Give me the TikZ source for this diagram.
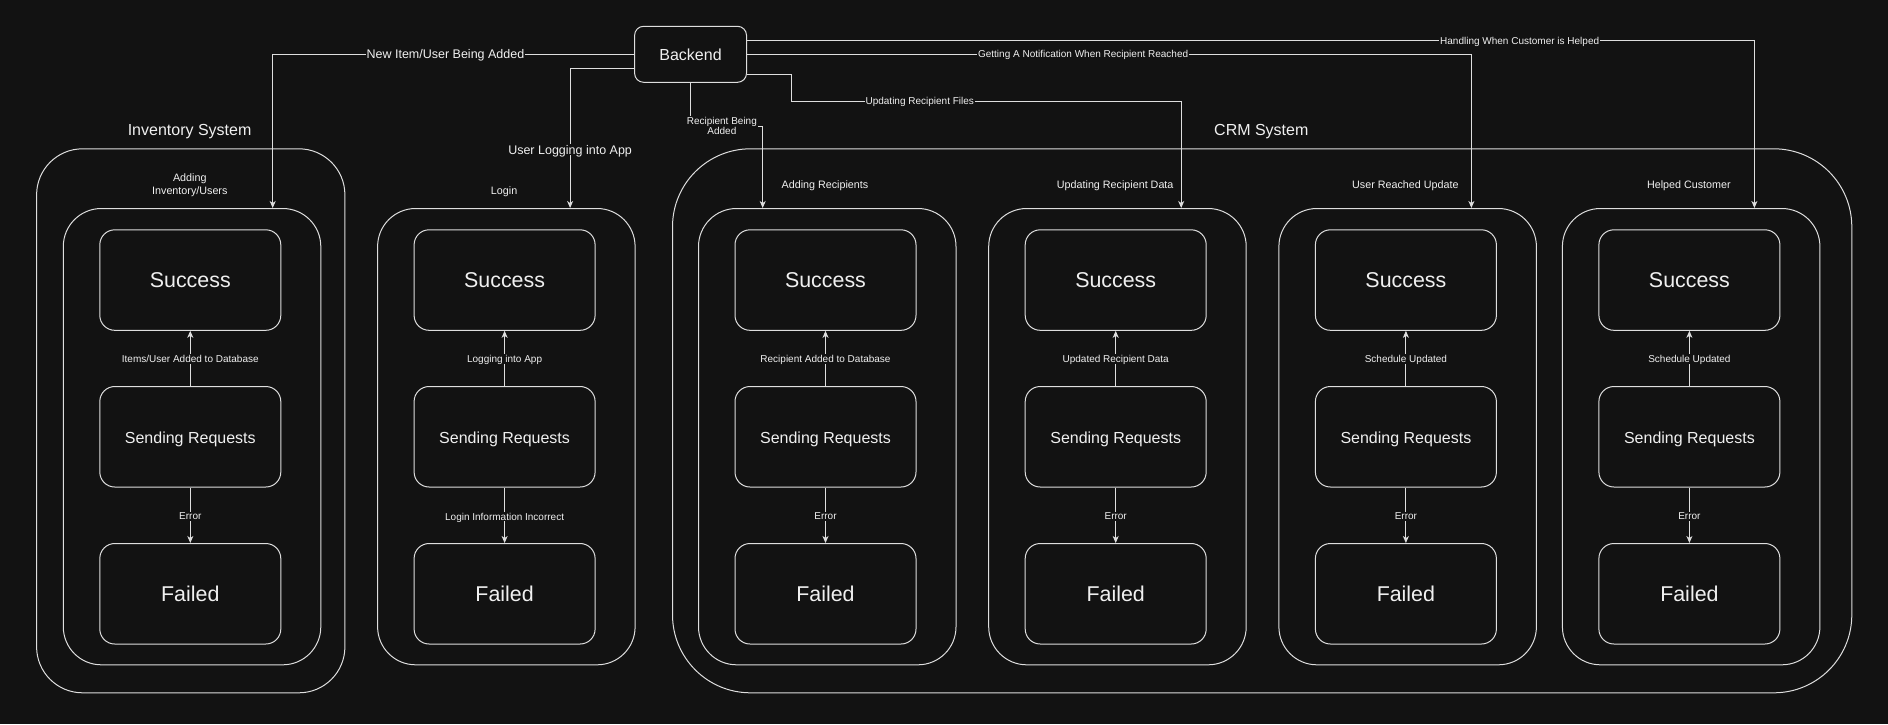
\documentclass[tikz,border=0pt]{standalone}
\usepackage{fontspec}
\setmainfont{Liberation Sans}
\usetikzlibrary{arrows.meta}
\definecolor{bg}{RGB}{18,18,18}
\definecolor{ln}{RGB}{222,222,222}
\definecolor{tx}{RGB}{240,240,240}
\tikzset{
  outerbox/.style={draw=ln, line width=1pt, rounded corners=#1, anchor=north west, inner sep=0pt},
  inbox/.style={draw=ln, line width=1pt, rounded corners=38pt, anchor=north west, inner sep=0pt,
    minimum width=257.5pt, minimum height=456.3pt},
  statebox/.style={draw=ln, line width=1pt, rounded corners=15pt, anchor=north west, inner sep=0pt,
    minimum width=181pt, minimum height=100.5pt, text=tx},
  bigtxt/.style={font=\fontsize{21.4}{25}\selectfont},
  midtxt/.style={font=\fontsize{16}{19}\selectfont},
  sendtxt/.style={font=\fontsize{16}{19}\selectfont, text depth=0pt, text height=14pt},
  title/.style={text=tx, font=\fontsize{16}{19}\selectfont, inner sep=1pt, text depth=0pt, yshift=-1pt},
  glab/.style={text=tx, font=\fontsize{10.75}{13}\selectfont, align=center, inner sep=1pt, text depth=0pt},
  elab/.style={text=tx, fill=bg, font=\fontsize{10}{10.5}\selectfont, align=center, inner sep=1pt, text depth=0pt},
  elabbig/.style={text=tx, fill=bg, font=\fontsize{12.5}{15}\selectfont, inner sep=1pt, text depth=0pt},
  arr/.style={draw=ln, line width=1pt, -{Stealth[length=7pt,width=6pt,inset=2pt]}},
}
\newcommand\mycol[6]{%
  \node[inbox] (i#1) at (#2-36.5,208) {};
  \node[statebox, bigtxt] (s#1) at (#2,229.3) {Success};
  \node[statebox, sendtxt] (r#1) at (#2,386) {Sending Requests};
  \node[statebox, bigtxt] (f#1) at (#2,543) {Failed};
  \node[glab] (g#1) at (#2+90.5,#6) {#5};
  \draw[arr] (r#1) -- node[elab, yshift=-0.6pt] {#3} (s#1);
  \draw[arr] (r#1) -- node[elab, yshift=-1.2pt] {#4} (f#1);
}
\begin{document}
\begin{tikzpicture}[x=1pt,y=-1pt]
  \fill[bg] (0,0) rectangle (1888,724);
  \useasboundingbox (0,0) rectangle (1888,724);

  % containers
  \node[outerbox=46pt, minimum width=308.3pt, minimum height=544pt] (inv) at (36.1,148.3) {};
  \node[outerbox=78pt, minimum width=1179.3pt, minimum height=544pt] (crm) at (672,148.3) {};
  \node[title] (invt) at (189.6,129) {Inventory System};
  \node[title] (crmt) at (1261.3,129) {CRM System};

  % columns
  \mycol{1}{99.3}{Items/User Added to Database}{Error}{Adding\\Inventory/Users}{184.3}
  \mycol{2}{413.6}{Logging into App}{Login Information Incorrect}{Login}{190.8}
  \mycol{3}{734.5}{Recipient Added to Database}{Error}{Adding Recipients}{184.8}
  \mycol{4}{1024.7}{Updated Recipient Data}{Error}{Updating Recipient Data}{184.8}
  \mycol{5}{1314.9}{Schedule Updated}{Error}{User Reached Update}{184.8}
  \mycol{6}{1598.4}{Schedule Updated}{Error}{Helped Customer}{184.8}

  % backend
  \node[draw=ln, line width=1pt, rounded corners=9pt, minimum width=111.9pt, minimum height=56pt,
        inner sep=0pt, text=tx, midtxt] (be) at (690.55,54.3) {Backend};

  % connectors from backend
  \draw[arr] (be.west) -- node[elabbig, pos=0.522] {New Item/User Being Added} (272.7,54.3)
        -- (272.7,0 |- i1.north);
  \draw[arr] ([yshift=-14.4pt]be.west) -| node[elabbig, pos=0.79] {User Logging into App}
        (570.1,0 |- i2.north);
  \draw[arr] (be.south) |- node[elab, pos=0.717] {Recipient Being\\Added} (762.7,126)
        -- (762.7,0 |- i3.north);
  \draw[arr] ([yshift=-20pt]be.east) -| (791,101)
        -- node[elab, pos=0.33] {Updating Recipient Files} (1181.2,101)
        -- (1181.2,0 |- i4.north);
  \draw[arr] (be.east) -- node[elab, pos=0.464] {Getting A Notification When Recipient Reached}
        (1471.4,54.3) -- (1471.4,0 |- i5.north);
  \draw[arr] ([yshift=13.6pt]be.east) -- node[elab, pos=0.767] {Handling When Customer is Helped}
        (1754.4,40.7) -- (1754.4,0 |- i6.north);
\end{tikzpicture}
\end{document}
